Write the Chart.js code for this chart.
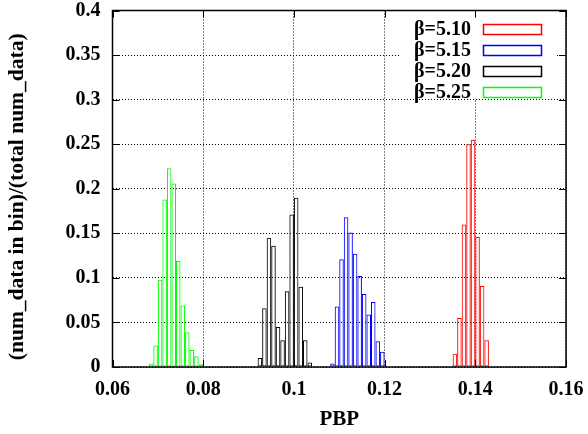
<!DOCTYPE html>
<html>
<head>
<meta charset="utf-8">
<script src="https://cdn.jsdelivr.net/npm/chart.js@4.4.1/dist/chart.umd.min.js"></script>
<style>
  html, body { margin: 0; padding: 0; background: #fff; }
  canvas { display: block; }
</style>
</head>
<body>
<canvas id="hist" width="588" height="434"></canvas>
<script>
// histogram of PBP for each beta: bin centres and (num_data in bin)/(total num_data)
const seriesLabels = ["β=5.10", "β=5.15", "β=5.20", "β=5.25"];
const seriesColors = ["#ff0000", "#0000ff", "#000000", "#00ff00"];

const bins510 = [0.1355, 0.1365, 0.1375, 0.1385, 0.1395, 0.1405, 0.1415, 0.1425];
const frac510 = [0.015, 0.055, 0.160, 0.250, 0.255, 0.146, 0.091, 0.030];

const bins515 = [0.1085, 0.1095, 0.1105, 0.1115, 0.1125, 0.1135, 0.1145, 0.1155, 0.1165, 0.1175, 0.1185, 0.1195];
const frac515 = [0.004, 0.068, 0.121, 0.168, 0.151, 0.127, 0.102, 0.082, 0.059, 0.073, 0.029, 0.017];

const bins520 = [0.0925, 0.0935, 0.0945, 0.0955, 0.0965, 0.0975, 0.0985, 0.0995, 0.1005, 0.1015, 0.1025, 0.1035];
const frac520 = [0.010, 0.066, 0.145, 0.136, 0.045, 0.030, 0.085, 0.171, 0.190, 0.090, 0.030, 0.005];

const bins525 = [0.0685, 0.0695, 0.0705, 0.0715, 0.0725, 0.0735, 0.0745, 0.0755, 0.0765, 0.0775, 0.0785, 0.0795];
const frac525 = [0.004, 0.024, 0.098, 0.188, 0.223, 0.206, 0.119, 0.069, 0.039, 0.019, 0.012, 0.003];

const xTicks = { min: 0.06, max: 0.16, step: 0.02 };
const yTicks = { min: 0, max: 0.4, step: 0.05 };

const SERIF = "'Liberation Serif', 'DejaVu Serif', serif";

const allBins = [bins510, bins515, bins520, bins525];
const allFrac = [frac510, frac515, frac520, frac525];

const datasets = seriesLabels.map((label, i) => ({
  label: label,
  data: allBins[i].map((b, k) => ({ x: b, y: allFrac[i][k] })),
  borderColor: seriesColors[i],
  backgroundColor: "transparent",
  borderWidth: 1,
  borderSkipped: false,
  inflateAmount: 0,
  grouped: false,
  barPercentage: 1,
  categoryPercentage: 1,
}));

// gnuplot look: inward ticks on every side, full frame, opaque key box top right
const framePlugin = {
  id: "frame",
  afterDatasetsDraw(chart) {
    const { ctx, chartArea: a, scales: { x, y } } = chart;
    ctx.save();

    // key
    ctx.fillStyle = "#fff";
    ctx.fillRect(a.right - 166, a.top + 7, 157, 81);
    ctx.font = "bold 20px " + SERIF;
    ctx.textAlign = "right";
    ctx.textBaseline = "middle";
    chart.data.datasets.forEach((ds, i) => {
      const cy = a.top + 18.5 + 21 * i;
      ctx.fillStyle = "#000";
      ctx.fillText(ds.label, a.right - 95, cy + 1);
      ctx.strokeStyle = ds.borderColor;
      ctx.lineWidth = 1.5;
      ctx.strokeRect(a.right - 82.5, Math.round(cy - 5.5) + 0.5, 58, 10);
    });

    // tick marks pointing inward
    ctx.strokeStyle = "#000";
    ctx.lineWidth = 1;
    ctx.beginPath();
    x.ticks.forEach(t => {
      const px = Math.round(x.getPixelForValue(t.value)) + 0.5;
      ctx.moveTo(px, a.bottom); ctx.lineTo(px, a.bottom - 7);
      ctx.moveTo(px, a.top); ctx.lineTo(px, a.top + 7);
    });
    y.ticks.forEach(t => {
      const py = Math.round(y.getPixelForValue(t.value)) + 0.5;
      ctx.moveTo(a.left, py); ctx.lineTo(a.left + 7, py);
      ctx.moveTo(a.right, py); ctx.lineTo(a.right - 7, py);
    });
    ctx.stroke();

    ctx.lineWidth = 1.5;
    ctx.strokeRect(a.left, a.top, a.right - a.left, a.bottom - a.top);
    ctx.restore();
  },
};

const fmt = v => String(parseFloat(Number(v).toFixed(2)));

new Chart(document.getElementById("hist"), {
  type: "bar",
  data: { datasets: datasets },
  plugins: [framePlugin],
  options: {
    responsive: false,
    devicePixelRatio: 1,
    animation: false,
    layout: { padding: { top: 10.5, right: 22, left: 0, bottom: 0 } },
    plugins: {
      legend: { display: false },
      tooltip: { enabled: false },
    },
    scales: {
      x: {
        type: "linear",
        offset: false,
        min: xTicks.min,
        max: xTicks.max,
        grid: { offset: false, color: "#000", lineWidth: 1, drawTicks: false },
        border: { display: false, dash: [1, 2] },
        ticks: {
          stepSize: xTicks.step,
          padding: 11,
          color: "#000",
          maxRotation: 0,
          font: { family: SERIF, size: 20, weight: "bold" },
          callback: fmt,
        },
        title: {
          display: true,
          text: "PBP",
          color: "#000",
          padding: { top: 0, bottom: 2 },
          font: { family: SERIF, size: 21, weight: "bold" },
        },
        afterFit(scale) {
          scale.height = 67;
          scale.paddingLeft = 0;
          scale.paddingRight = 0;
        },
      },
      y: {
        min: yTicks.min,
        max: yTicks.max,
        grid: { color: "#000", lineWidth: 1, drawTicks: false },
        border: { display: false, dash: [1, 2] },
        ticks: {
          stepSize: yTicks.step,
          padding: 12,
          color: "#000",
          font: { family: SERIF, size: 20, weight: "bold" },
          callback: fmt,
        },
        title: {
          display: true,
          // trailing spaces push the centred text a little lower, as in the original
          text: "(num_data in bin)/(total num_data)\u00a0\u00a0\u00a0",
          color: "#000",
          padding: { top: 5, bottom: 0 },
          font: { family: SERIF, size: 21.5, weight: "bold" },
        },
        afterFit(scale) {
          scale.width = 112.5;
          scale.paddingTop = 0;
          scale.paddingBottom = 0;
        },
      },
    },
  },
});
</script>
</body>
</html>
